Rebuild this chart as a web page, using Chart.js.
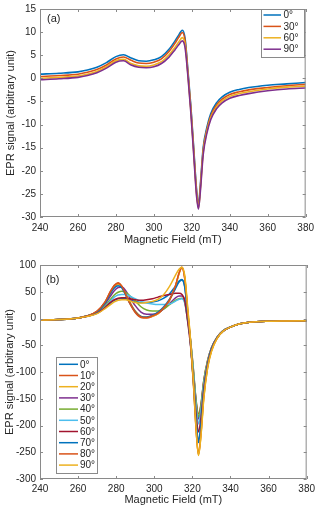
<!DOCTYPE html>
<html>
<head>
<meta charset="utf-8">
<script src="https://cdn.jsdelivr.net/npm/chart.js@4/dist/chart.umd.min.js"></script>
<style>
  html, body { margin: 0; padding: 0; background: #fff; }
  canvas { display: block; }
</style>
</head>
<body>
<canvas id="chartA" width="320" height="250"></canvas>
<canvas id="chartB" width="320" height="259"></canvas>
<script>
// ---- panel (a) data ----
const fieldA = [240, 250, 260, 265, 270, 275, 280, 284, 288, 292, 296, 300, 304, 308, 311, 313, 315, 316.5, 318, 319.5,
  321, 322.5, 323.5, 324.5, 326, 328, 330, 333, 336, 340, 345, 350, 360, 370, 380];
const labelsA = ['0°', '30°', '60°', '90°'];
const a0 = [0.9, 1.1, 1.4, 1.8, 2.4, 3.4, 4.7, 5.1, 4.4, 3.8, 3.7, 4.0, 4.7, 6.3, 8.0, 9.3, 10.4, 8.5, 1.5, -6,
  -15, -24, -27.4, -23, -15, -10.5, -7.6, -5.3, -4.0, -3.0, -2.4, -2.0, -1.5, -1.2, -0.9];
const a30 = [0.4, 0.6, 0.9, 1.3, 1.9, 2.9, 4.2, 4.6, 3.9, 3.3, 3.2, 3.5, 4.2, 5.8, 7.5, 8.8, 9.9, 8.0, 1.0, -6.5,
  -15.5, -24.5, -27.8, -23.5, -15.5, -11, -8.1, -5.8, -4.5, -3.5, -2.9, -2.5, -2.0, -1.6, -1.3];
const a60 = [0.0, 0.2, 0.5, 0.9, 1.5, 2.5, 3.8, 4.1, 3.2, 2.7, 2.6, 2.9, 3.6, 5.1, 6.6, 7.8, 8.8, 7.2, 0.6, -7,
  -16, -25, -28.1, -24, -16, -11.4, -8.5, -6.2, -4.9, -3.9, -3.3, -2.9, -2.3, -1.9, -1.7];
const a90 = [-0.3, -0.1, 0.2, 0.6, 1.2, 2.2, 3.5, 3.8, 2.9, 2.4, 2.3, 2.5, 3.2, 4.6, 6.1, 7.2, 8.1, 6.5, 0.2, -7.5,
  -16.5, -25.5, -28.3, -24.5, -16.5, -11.8, -8.9, -6.6, -5.3, -4.3, -3.7, -3.3, -2.7, -2.3, -2.1];

// ---- panel (b) data ----
const fieldB = [240, 250, 260, 265, 270, 274, 277, 279, 281, 283, 285, 287, 290, 293, 296, 299, 302, 305, 308, 311,
  313, 314.5, 316, 317.5, 319, 320.5, 322, 323.2, 324.5, 326, 328, 330, 333, 336, 340, 345, 350, 360, 370, 380];
const labelsB = ['0°', '10°', '20°', '30°', '40°', '50°', '60°', '70°', '80°', '90°'];
const b0 = [-3, -2, 1, 4, 10, 20, 29, 34, 37, 38, 37, 35, 32, 30, 30, 31, 33, 38, 46, 60,
  70, 73, 60, 10, -45, -115, -195, -232, -200, -138, -88, -58, -36, -24, -16, -10, -7, -5, -4.5, -4];
const b10 = [-3, -2, 1, 5, 14, 30, 51, 62, 67, 60, 44, 29, 11, 2, 1, 4, 9, 19, 34, 59,
  84, 95, 74, 14, -40, -100, -155, -178, -160, -115, -78, -55, -35, -23, -16, -10, -7, -5, -4.5, -4];
const b20 = [-3, -2, 1, 5, 13, 28, 47, 58, 64, 60, 47, 32, 14, 4, 2, 4, 9, 19, 34, 59,
  84, 96, 78, 20, -40, -118, -210, -256, -218, -148, -92, -61, -37, -24, -16, -10, -7, -5, -4.5, -4];
const b30 = [-3, -2, 1, 5, 12, 26, 42, 52, 58, 59, 52, 40, 24, 12, 8, 8, 11, 18, 28, 38,
  42, 42, 33, 0, -40, -95, -158, -188, -165, -118, -80, -55, -35, -23, -16, -10, -7, -5, -4.5, -4];
const b40 = [-3, -2, 1, 5, 11, 23, 36, 44, 49, 51, 49, 43, 33, 22, 16, 14, 14, 18, 26, 34,
  37, 38, 30, -2, -40, -93, -155, -184, -162, -116, -79, -55, -35, -23, -16, -10, -7, -5, -4.5, -4];
const b50 = [-3, -2, 1, 5, 10, 21, 33, 40, 44, 45, 45, 42, 37, 32, 29, 27, 26, 26, 27, 32,
  36, 37, 29, -3, -43, -100, -165, -197, -172, -122, -82, -56, -35, -23, -16, -10, -7, -5, -4.5, -4];
const b60 = [-3, -2, 1, 4, 10, 20, 30, 35, 38, 39, 39, 37, 35, 34, 35, 37, 40, 43, 45, 47,
  47, 45, 33, -5, -50, -110, -180, -212, -185, -130, -85, -57, -36, -24, -16, -10, -7, -5, -4.5, -4];
const b70 = [-3, -2, 1, 5, 13, 28, 47, 57, 61, 57, 44, 30, 13, 4, 3, 6, 12, 22, 36, 55,
  68, 72, 58, 8, -45, -115, -192, -228, -198, -136, -87, -58, -36, -24, -16, -10, -7, -5, -4.5, -4];
const b80 = [-3, -2, 1, 5, 14, 30, 50, 61, 66, 60, 45, 30, 12, 3, 2, 5, 10, 20, 35, 60,
  85, 96, 75, 15, -45, -120, -210, -254, -215, -145, -90, -60, -36, -24, -16, -10, -7, -5, -4.5, -4];
const b90 = [-3, -2, 1, 4, 9, 18, 26, 31, 34, 35, 35, 33, 30, 29, 30, 32, 36, 45, 60, 80,
  92, 96, 80, 22, -38, -115, -208, -255, -220, -150, -93, -62, -37, -24, -16, -10, -7, -5, -4.5, -4];

const xTicks = [240, 260, 280, 300, 320, 340, 360, 380];

// matlab default line colours
const mColors = ['#0072BD', '#D95319', '#EDB120', '#7E2F8E', '#77AC30', '#4DBEEE', '#A2142F'];

const FONT = '"Liberation Sans", Arial, sans-serif';
const TEXT = '#262626';

// box, inward ticks, panel tag and legend, like a matlab axes
const matlabAxes = {
  id: 'matlabAxes',
  afterDraw(chart, args, opts) {
    const { ctx, chartArea: a, scales: { x, y } } = chart;
    ctx.save();
    ctx.strokeStyle = '#8a8a8a';
    ctx.lineWidth = 1;
    ctx.strokeRect(a.left + 0.5, a.top + 0.5, a.right - a.left - 1, a.bottom - a.top - 1);
    const t = 3;
    ctx.beginPath();
    x.ticks.forEach(tk => {
      const px = Math.round(x.getPixelForValue(tk.value)) + 0.5;
      ctx.moveTo(px, a.bottom); ctx.lineTo(px, a.bottom - t);
      ctx.moveTo(px, a.top); ctx.lineTo(px, a.top + t);
    });
    y.ticks.forEach(tk => {
      const py = Math.round(y.getPixelForValue(tk.value)) + 0.5;
      ctx.moveTo(a.left, py); ctx.lineTo(a.left + t, py);
      ctx.moveTo(a.right, py); ctx.lineTo(a.right - t, py);
    });
    ctx.stroke();

    // panel tag
    ctx.fillStyle = TEXT;
    ctx.font = '11px ' + FONT;
    ctx.textBaseline = 'middle';
    ctx.textAlign = 'left';
    ctx.fillText(opts.tag, opts.tagX, opts.tagY);

    // legend
    const L = opts.legend;
    ctx.fillStyle = '#fff';
    ctx.fillRect(L.x, L.y, L.w, L.h);
    ctx.strokeStyle = '#8a8a8a';
    ctx.strokeRect(L.x + 0.5, L.y + 0.5, L.w, L.h);
    ctx.font = '10px ' + FONT;
    chart.data.datasets.forEach((ds, i) => {
      const ry = L.firstRow + i * L.rowH;
      ctx.strokeStyle = ds.borderColor;
      ctx.lineWidth = 1.5;
      ctx.beginPath();
      ctx.moveTo(L.x + L.lineX0, ry);
      ctx.lineTo(L.x + L.lineX1, ry);
      ctx.stroke();
      ctx.fillStyle = TEXT;
      ctx.fillText(ds.label, L.x + L.textX, ry + 0.5);
    });
    ctx.restore();
  }
};

function makeChart(id, field, series, names, yMin, yMax, yStep, cfg) {
  const n = series.length;
  const datasets = series.map((vals, i) => ({
    label: names[i],
    data: vals.map((v, k) => ({ x: field[k], y: v })),
    borderColor: mColors[i % mColors.length],
    borderWidth: cfg.lineW,
    pointRadius: 0,
    fill: false,
    cubicInterpolationMode: 'monotone',
    order: n - 1 - i
  }));
  return new Chart(document.getElementById(id), {
    type: 'line',
    data: { datasets },
    plugins: [matlabAxes],
    options: {
      responsive: false,
      animation: false,
      events: [],
      layout: { padding: { top: cfg.top, right: 11, left: 0, bottom: 0 } },
      plugins: {
        legend: { display: false },
        tooltip: { enabled: false },
        matlabAxes: cfg.axes
      },
      scales: {
        x: {
          type: 'linear',
          min: 240,
          max: 380,
          afterBuildTicks: s => { s.ticks = xTicks.map(v => ({ value: v })); },
          afterFit: s => { s.height = cfg.xH; },
          grid: { display: false, drawTicks: false },
          border: { display: false },
          ticks: { color: TEXT, padding: cfg.xPad, font: { family: FONT, size: 10, lineHeight: 1 }, maxRotation: 0 },
          title: {
            display: true,
            text: 'Magnetic Field (mT)',
            color: TEXT,
            font: { family: FONT, size: 11, lineHeight: 1.2 },
            padding: { top: 0, bottom: cfg.titlePad }
          }
        },
        y: {
          min: yMin,
          max: yMax,
          afterFit: s => { s.width = 40; },
          grid: { display: false, drawTicks: false },
          border: { display: false },
          ticks: { stepSize: yStep, color: TEXT, padding: 4, font: { family: FONT, size: 10, lineHeight: 1 } },
          title: {
            display: true,
            text: 'EPR signal (arbitrary unit)',
            color: TEXT,
            font: { family: FONT, size: 11, lineHeight: 1.2 },
            padding: { top: cfg.yTitlePad, bottom: 0 }
          }
        }
      }
    }
  });
}

makeChart('chartA', fieldA, [a0, a30, a60, a90], labelsA, -30, 15, 5, {
  lineW: 1.6, top: 5, xH: 33, xPad: 6, titlePad: 3, yTitlePad: 4,
  axes: {
    tag: '(a)', tagX: 47, tagY: 19,
    legend: { x: 261, y: 9, w: 43, h: 48, firstRow: 15, rowH: 11.4, lineX0: 2.5, lineX1: 20, textX: 22.5 }
  }
});

makeChart('chartB', fieldB, [b0, b10, b20, b30, b40, b50, b60, b70, b80, b90], labelsB, -300, 100, 50, {
  lineW: 1.5, top: 15, xH: 30, xPad: 5, titlePad: 2, yTitlePad: 3,
  axes: {
    tag: '(b)', tagX: 46, tagY: 30,
    legend: { x: 56, y: 107, w: 41, h: 116, firstRow: 114.3, rowH: 11.2, lineX0: 3, lineX1: 22, textX: 24 }
  }
});
</script>
</body>
</html>
